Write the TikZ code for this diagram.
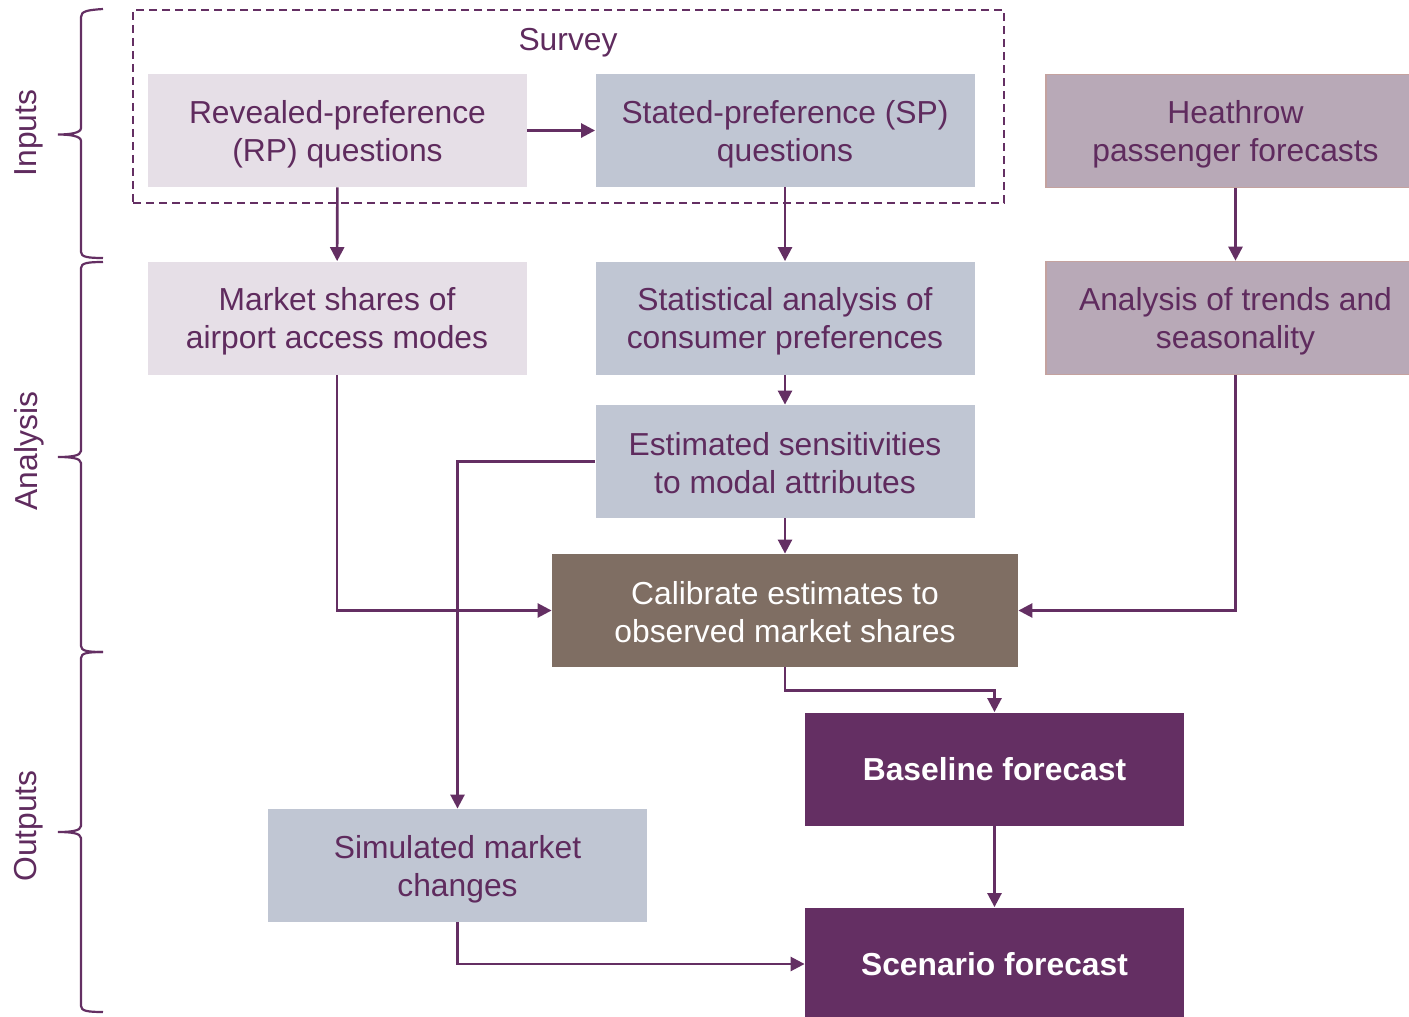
\documentclass[tikz,border=0pt]{standalone}
\usepackage{fontspec}
\setmainfont{Liberation Sans}
\usetikzlibrary{arrows.meta}
\definecolor{plum}{HTML}{642F63}
\definecolor{plumtext}{HTML}{5F2B5E}
\definecolor{lilac}{HTML}{E6DFE7}
\definecolor{steel}{HTML}{C0C6D3}
\definecolor{mauve}{HTML}{B8A9B7}
\definecolor{mauveline}{HTML}{C4A29F}
\definecolor{taupe}{HTML}{7F6E63}

\begin{document}
\begin{tikzpicture}[x=0.5pt,y=-0.5pt,
  box/.style={minimum width=189.5pt,minimum height=56.5pt,inner sep=0pt,align=center,
    text depth=0pt,text=plumtext,font=\fontsize{15.9}{19}\selectfont},
  rpbox/.style={box,fill=lilac},
  spbox/.style={box,fill=steel},
  extbox/.style={box,fill=mauve,draw=mauveline,line width=0.8pt},
  calbox/.style={box,fill=taupe,text=white},
  outbox/.style={box,fill=plum,text=white,font=\fontsize{15.9}{19}\selectfont\bfseries},
  conn/.style={draw=plum,line width=1.3pt,-{Triangle[length=7pt,width=7pt]}},
  bracket/.style={draw=plum,line width=1.1pt},
  side/.style={rotate=90,text=plumtext,font=\fontsize{15.9}{19}\selectfont}]
  \useasboundingbox (0,0) rectangle (1409,1017);

  % survey frame
  \node[draw=plum,dashed,dash pattern=on 4pt off 2.5pt,line width=0.8pt,
        minimum width=435.5pt,minimum height=96.5pt,inner sep=0pt] (survey) at (568.5,106.5) {};
  \node[text=plumtext,font=\fontsize{15.9}{19}\selectfont] (surveylbl) at (568,43) {Survey};

  % inputs
  \node[rpbox] (rp) at (337.5,130.5) {Revealed-preference\\(RP) questions};
  \node[spbox] (sp) at (785,130.5) {Stated-preference (SP)\\questions};
  \node[extbox] (lhr) at (1235.5,131) {Heathrow\\passenger forecasts};

  % analysis
  \node[rpbox] (market) at (337,318) {Market shares of\\airport access modes};
  \node[spbox] (stat) at (785,318) {Statistical analysis of\\consumer preferences};
  \node[extbox] (trends) at (1235.5,318) {Analysis of trends and\\seasonality};
  \node[spbox,text height=32.4pt] (est) at (785,461.5) {Estimated sensitivities\\to modal attributes};
  \node[calbox,text height=32.4pt,minimum width=233pt] (calib) at (785,610.5) {Calibrate estimates to\\observed market shares};

  % outputs
  \node[outbox] (base) at (994.5,769) {Baseline forecast};
  \node[spbox] (sim) at (457.5,865.5) {Simulated market\\changes};
  \node[outbox] (scen) at (994.5,964) {Scenario forecast};

  % connectors
  \draw[conn] (rp) -- (sp);
  \draw[conn] (rp) -- (market);
  \draw[conn] (sp) -- (stat);
  \draw[conn] (lhr) -- (trends);
  \draw[conn] (stat) -- (est);
  \draw[conn] (est) -- (calib);
  \draw[conn] (market.south) |- (calib.west);
  \draw[conn] (trends.south) |- (calib.east);
  \draw[conn] (est.west) -| (sim.north);
  \draw[conn] (calib.south) -- ++(0,23) -| (base.north);
  \draw[conn] (base) -- (scen);
  \draw[conn] (sim.south) |- (scen.west);

  % braces
  \draw[bracket] (103,9) .. controls (88,10) and (81,11) .. (81,17) -- (81,128)
    .. controls (81,133) and (70,134.5) .. (58,134.5) .. controls (70,134.5) and (81,136) .. (81,141)
    -- (81,252) .. controls (81,257) and (88,258) .. (103,258);
  \draw[bracket] (103,262) .. controls (88,262) and (81,263) .. (81,268) -- (81,451)
    .. controls (81,456) and (70,457) .. (58,457) .. controls (70,457) and (81,458) .. (81,463)
    -- (81,646) .. controls (81,651) and (88,652) .. (103,652);
  \draw[bracket] (103,652) .. controls (88,652) and (81,653) .. (81,658) -- (81,826)
    .. controls (81,831) and (70,832) .. (58,832) .. controls (70,832) and (81,833) .. (81,838)
    -- (81,1006) .. controls (81,1011) and (88,1012) .. (103,1012);
  \node[side] (inputs) at (29,133) {Inputs};
  \node[side] (analysis) at (29,451) {Analysis};
  \node[side] (outputs) at (29,826) {Outputs};
\end{tikzpicture}
\end{document}
